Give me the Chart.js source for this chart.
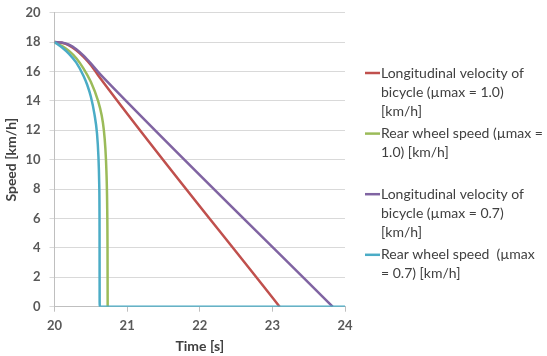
<!DOCTYPE html>
<html>
<head>
<meta charset="utf-8">
<script src="https://cdn.jsdelivr.net/npm/chart.js@4"></script>
<style>
    html, body { margin: 0; padding: 0; background: #fff; }
    #wrap { width: 547px; height: 356px; position: relative; }
</style>
</head>
<body>
<div id="wrap"><canvas id="speedChart"></canvas></div>
<script>
// 讀自原圖的數值
const xTicks = [20, 21, 22, 23, 24];
const yTicks = [0, 2, 4, 6, 8, 10, 12, 14, 16, 18, 20];

// 車身縱向速度 (μmax = 1.0)
const timeRed  = [20, 20.1, 20.2, 20.3, 20.4, 20.5, 20.6, 23.1];
const speedRed = [18, 17.95, 17.78, 17.45, 17.0, 16.45, 15.75, 0];

// 後輪速度 (μmax = 1.0)
const timeGreen  = [20, 20.1, 20.2, 20.3, 20.4, 20.5, 20.6, 20.65, 20.68, 20.7, 20.715, 20.725, 20.73, 20.732];
const speedGreen = [18, 17.75, 17.4, 16.9, 16.2, 15.3, 14.0, 13.0, 12.0, 10.8, 9.2, 7, 4, 0];

// 車身縱向速度 (μmax = 0.7)
const timePurple  = [20, 20.1, 20.2, 20.3, 20.4, 20.5, 20.6, 20.7, 23.83];
const speedPurple = [18, 17.97, 17.82, 17.52, 17.08, 16.55, 15.98, 15.45, 0];

// 後輪速度 (μmax = 0.7)
const timeCyan  = [20, 20.1, 20.2, 20.3, 20.4, 20.45, 20.5, 20.55, 20.585, 20.605, 20.615, 20.62, 20.622, 24];
const speedCyan = [18, 17.65, 17.2, 16.6, 15.7, 15.1, 14.3, 13.1, 11.8, 10.2, 8.5, 6, 0, 0];

// 圖例文字（依原圖換行）
const legendLines = [
    ['Longitudinal velocity of', 'bicycle (\u00b5max = 1.0)', '[km/h]'],
    ['Rear wheel speed (\u00b5max =', '1.0) [km/h]'],
    ['Longitudinal velocity of', 'bicycle (\u00b5max = 0.7)', '[km/h]'],
    ['Rear wheel speed  (\u00b5max', '= 0.7) [km/h]']
];

function toPoints(xs, ys) {
    return xs.map(function (x, i) { return { x: x, y: ys[i] }; });
}

const fontFamily = "Lato, 'Open Sans', sans-serif";

// 右側多行圖例
const sideLegend = {
    id: 'sideLegend',
    afterDraw: function (chart) {
        const ctx = chart.ctx;
        const top = 73;
        const slot = 60.6;
        const lineH = 19;
        ctx.save();
        ctx.font = '14px ' + fontFamily;
        ctx.textBaseline = 'middle';
        ctx.textAlign = 'left';
        chart.data.datasets.forEach(function (ds, i) {
            const y0 = top + i * slot;
            ctx.strokeStyle = ds.borderColor;
            ctx.lineWidth = 2.5;
            ctx.beginPath();
            ctx.moveTo(365, y0);
            ctx.lineTo(380, y0);
            ctx.stroke();
            ctx.fillStyle = '#404040';
            legendLines[i].forEach(function (line, j) {
                ctx.fillText(line, 381, y0 + j * lineH);
            });
        });
        ctx.restore();
    }
};

const colors = ['#C0504D', '#9BBB59', '#8064A2', '#4BACC6'];
const series = [
    toPoints(timeRed, speedRed),
    toPoints(timeGreen, speedGreen),
    toPoints(timePurple, speedPurple),
    toPoints(timeCyan, speedCyan)
];

new Chart(document.getElementById('speedChart'), {
    type: 'scatter',
    data: {
        datasets: series.map(function (pts, i) {
            return {
                label: legendLines[i].join(' '),
                data: pts,
                showLine: true,
                borderColor: colors[i],
                backgroundColor: colors[i],
                borderWidth: 2.5,
                pointRadius: 0,
                cubicInterpolationMode: 'monotone',
                order: i === 3 ? 0 : 4 - i
            };
        })
    },
    options: {
        responsive: true,
        maintainAspectRatio: false,
        animation: false,
        layout: {
            padding: { left: 4, right: 202, top: 12.7, bottom: 0 }
        },
        plugins: {
            legend: { display: false },
            tooltip: { enabled: false }
        },
        scales: {
            x: {
                type: 'linear',
                min: 20,
                max: 24,
                afterBuildTicks: function (axis) {
                    axis.ticks = xTicks.map(function (v) { return { value: v }; });
                },
                afterFit: function (axis) {
                    axis.height = 49.3;
                    axis.paddingLeft = 0;
                    axis.paddingRight = 0;
                },
                border: { color: '#BFBFBF' },
                grid: {
                    drawOnChartArea: false,
                    color: '#BFBFBF',
                    tickLength: 5
                },
                ticks: {
                    padding: 6,
                    color: '#595959',
                    font: { family: fontFamily, size: 13, weight: 'bold' }
                },
                title: {
                    display: true,
                    text: 'Time [s]',
                    color: '#404040',
                    padding: { top: 0, bottom: 3 },
                    font: { family: fontFamily, size: 14, weight: 'bold', lineHeight: 1 }
                }
            },
            y: {
                min: 0,
                max: 20,
                afterBuildTicks: function (axis) {
                    axis.ticks = yTicks.map(function (v) { return { value: v }; });
                },
                afterFit: function (axis) {
                    axis.width = 50.5;
                    axis.paddingTop = 0;
                    axis.paddingBottom = 0;
                },
                border: { color: '#BFBFBF' },
                grid: {
                    color: '#D9D9D9',
                    tickLength: 5
                },
                ticks: {
                    padding: 9,
                    color: '#595959',
                    font: { family: fontFamily, size: 13, weight: 'bold' }
                },
                title: {
                    display: true,
                    text: 'Speed [km/h]',
                    color: '#404040',
                    padding: { top: 0, bottom: 0 },
                    font: { family: fontFamily, size: 14, weight: 'bold', lineHeight: 1.1 }
                }
            }
        }
    },
    plugins: [sideLegend]
});
</script>
</body>
</html>
